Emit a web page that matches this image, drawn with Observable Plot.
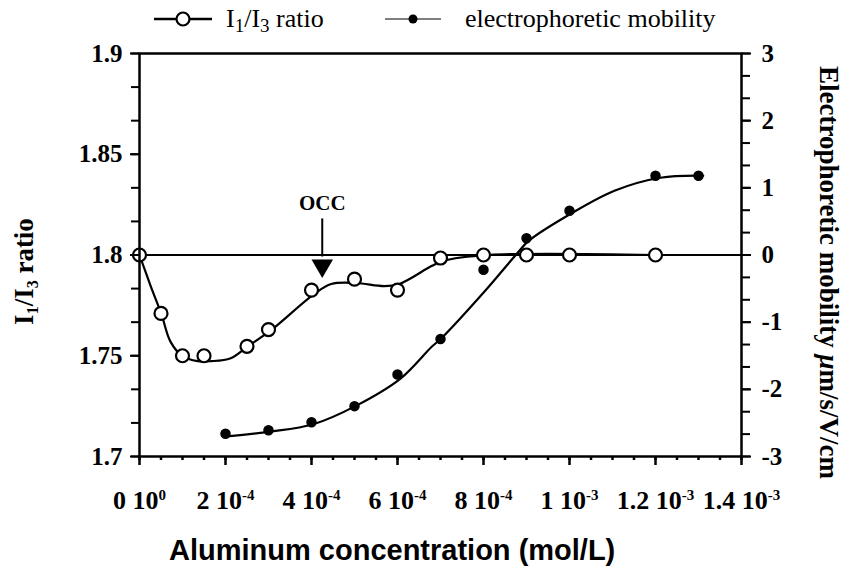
<!DOCTYPE html>
<html><head><meta charset="utf-8">
<script src="https://cdn.jsdelivr.net/npm/d3@7"></script>
<script src="https://cdn.jsdelivr.net/npm/@observablehq/plot@0.6"></script>
<style>
body{margin:0;background:#fff;}
#wrap{position:relative;width:848px;height:574px;overflow:hidden;font-family:"Liberation Serif","Times New Roman",serif;color:#000;}
#wrap svg.plot{position:absolute;left:0;top:0;}
.legend{position:absolute;top:4px;left:0;font-size:26px;white-space:nowrap;}
.legend .item{position:absolute;top:0;display:flex;align-items:center;}
.legend sub{font-size:19px;vertical-align:-5px;line-height:0;}
.ylab{position:absolute;font-weight:bold;white-space:nowrap;}
.ylab sub{font-size:16px;vertical-align:-5px;line-height:0;}
.xlab{position:absolute;font-family:"Liberation Sans Narrow","Liberation Sans",Arial,sans-serif;font-weight:bold;font-size:29px;white-space:nowrap;}
</style></head><body><div id="wrap"></div>
<script>
// I1/I3 ratio (open circles)
const ratioX = [0, 0.5e-4, 1e-4, 1.5e-4, 2.5e-4, 3e-4, 4e-4, 5e-4, 6e-4, 7e-4, 8e-4, 9e-4, 1e-3, 1.2e-3];
const ratioY = [1.8, 1.771, 1.75, 1.75, 1.7547, 1.763, 1.7826, 1.788, 1.7826, 1.7985, 1.8, 1.8, 1.8, 1.8];
// electrophoretic mobility (filled dots), right axis units
const mobX = [2e-4, 3e-4, 4e-4, 5e-4, 6e-4, 7e-4, 8e-4, 9e-4, 1e-3, 1.2e-3, 1.3e-3];
const mobY = [-2.66, -2.61, -2.49, -2.25, -1.78, -1.25, -0.22, 0.25, 0.66, 1.18, 1.18];
// fitted curves
const ratioFitX = [0, 0.26e-4, 0.51e-4, 0.72e-4, 1.0e-4, 1.35e-4, 1.66e-4, 2.12e-4, 2.52e-4, 3.06e-4, 4.06e-4, 4.46e-4, 5.04e-4, 5.69e-4, 6.04e-4, 6.79e-4, 7.05e-4, 8.12e-4, 1.2e-3];
const ratioFitY = [1.8, 1.7846, 1.7706, 1.757, 1.7498, 1.7473, 1.7473, 1.7488, 1.7547, 1.7627, 1.7806, 1.7856, 1.7861, 1.7846, 1.7856, 1.7945, 1.797, 1.8, 1.8];
const mobFitX = [2.03e-4, 3.03e-4, 4.04e-4, 5.02e-4, 6.07e-4, 6.79e-4, 7.02e-4, 8.07e-4, 8.77e-4, 9.05e-4, 1.01e-3, 1.106e-3, 1.211e-3, 1.311e-3];
const mobFitY = [-2.70, -2.63, -2.52, -2.25, -1.84, -1.37, -1.24, -0.51, 0.015, 0.21, 0.64, 0.96, 1.15, 1.18];
// ticks
const xMajor = [0, 2e-4, 4e-4, 6e-4, 8e-4, 1e-3, 1.2e-3, 1.4e-3];
const xTickMantissa = ["0", "2", "4", "6", "8", "1", "1.2", "1.4"];
const xTickExponent = ["0", "-4", "-4", "-4", "-4", "-3", "-3", "-3"];
const leftTicks = [1.7, 1.75, 1.8, 1.85, 1.9];
const leftTickLabels = ["1.7", "1.75", "1.8", "1.85", "1.9"];
const rightTicks = [-3, -2, -1, 0, 1, 2, 3];
const rightTickLabels = ["-3", "-2", "-1", "0", "1", "2", "3"];
// annotation
const occX = 4.25e-4, occTextY = 1.8259, occArrowTop = 1.8179, occArrowEnd = 1.799, occHeadY = 1.7947;

const SERIF = "Liberation Serif";
const toL = m => 1.8 + m / 30; // right axis (-3..3) onto left scale (1.7..1.9)
const xMinor = d3.range(0, 28.5).map(i => i * 0.5e-4);
const leftMinor = d3.range(0, 12.5).map(i => 1.7 + i * 0.2 / 12);
const rightMinor = d3.range(0, 18.5).map(i => toL(-3 + i / 3));

const ratioPts = ratioX.map((x, i) => ({x, y: ratioY[i]}));
const mobPts = mobX.map((x, i) => ({x, y: toL(mobY[i])}));
const ratioFit = ratioFitX.map((x, i) => ({x, y: ratioFitY[i]}));
const mobFit = mobFitX.map((x, i) => ({x, y: toL(mobFitY[i])}));

const plot = Plot.plot({
  width: 848, height: 574,
  marginLeft: 139, marginRight: 107, marginTop: 53, marginBottom: 118,
  x: {domain: [0, 1.4e-3]},
  y: {domain: [1.7, 1.9]},
  style: {fontFamily: SERIF, fontSize: "22px", background: "white", color: "black", overflow: "visible"},
  marks: [
    Plot.ruleY([1.8], {strokeWidth: 2}),
    Plot.line(ratioFit, {x: "x", y: "y", curve: "catmull-rom", strokeWidth: 2.2}),
    Plot.line(mobFit, {x: "x", y: "y", curve: "catmull-rom", strokeWidth: 2.2}),
    Plot.dot(ratioPts, {x: "x", y: "y", r: 6.5, fill: "white", stroke: "black", strokeWidth: 2.2}),
    Plot.dot(mobPts, {x: "x", y: "y", r: 4.5, fill: "black", stroke: "black"}),
    Plot.ruleX([occX], {y1: occArrowTop, y2: occArrowEnd, strokeWidth: 2}),
    Plot.dot([occX], {x: d => d, y: occHeadY, symbol: "triangle", rotate: 180, r: 8, fill: "black"}),
    Plot.text([occX], {x: d => d, y: occTextY, text: () => "OCC", fontSize: 21, fontWeight: "bold", fontFamily: SERIF}),
    Plot.frame({strokeWidth: 2.5}),
    Plot.axisY(leftMinor, {anchor: "left", tickSize: 8, strokeWidth: 2, tickFormat: () => "", label: null}),
    Plot.axisY(leftTicks, {anchor: "left", tickSize: 9, strokeWidth: 2, tickPadding: 8, fontSize: 25, fontWeight: "bold", fontFamily: SERIF, tickFormat: d => leftTickLabels[leftTicks.indexOf(d)], label: null}),
    Plot.axisY(rightMinor, {anchor: "right", tickSize: 8, strokeWidth: 2, tickFormat: () => "", label: null}),
    Plot.axisY(rightTicks.map(toL), {anchor: "right", tickSize: 9, strokeWidth: 2, tickPadding: 11, fontSize: 25, fontWeight: "bold", fontFamily: SERIF, tickFormat: d => rightTickLabels[Math.round((d - 1.8) * 30) + 3], label: null}),
    Plot.axisX(xMinor, {anchor: "bottom", tickSize: 4, strokeWidth: 2.5, tickFormat: () => "", label: null}),
    Plot.axisX(xMajor, {anchor: "bottom", tickSize: 9, strokeWidth: 2.5, tickPadding: 25, fontSize: 26, fontWeight: "bold", fontFamily: SERIF, tickFormat: d => xTickMantissa[xMajor.indexOf(d)] + " 10^" + xTickExponent[xMajor.indexOf(d)], label: null})
  ]
});
plot.classList.add("plot");
const wrap = document.getElementById("wrap");
wrap.appendChild(plot);

// superscripts for the power-of-ten tick labels
d3.select(plot).selectAll("text").each(function () {
  const t = d3.select(this);
  const s = this.textContent;
  if (s.includes("^")) {
    const [base, exp] = s.split("^");
    t.text(null);
    t.append("tspan").text(base);
    t.append("tspan").attr("dy", "-0.62em").attr("font-size", "15px").text(exp);
  }
});

// legend
const legend = document.createElement("div");
legend.className = "legend";
legend.innerHTML =
  `<div class="item" style="left:152px"><svg width="62" height="30"><line x1="2" y1="15" x2="60" y2="15" stroke="black" stroke-width="2.5"/><circle cx="31" cy="15" r="6.5" fill="white" stroke="black" stroke-width="2.2"/></svg><span style="margin-left:12px">I<sub>1</sub>/I<sub>3</sub> ratio</span></div>` +
  `<div class="item" style="left:383px"><svg width="60" height="30"><line x1="2" y1="15" x2="58" y2="15" stroke="black" stroke-width="1.2"/><circle cx="30" cy="15" r="4.5" fill="black"/></svg><span style="margin-left:22px">electrophoretic mobility</span></div>`;
wrap.appendChild(legend);

// left axis title
const yl = document.createElement("div");
yl.className = "ylab";
yl.style.fontSize = "27px";
yl.innerHTML = "I<sub>1</sub>/I<sub>3</sub> ratio";
wrap.appendChild(yl);
const ylw = yl.offsetWidth, ylh = yl.offsetHeight;
yl.style.left = (24 - ylw / 2) + "px";
yl.style.top = (271 - ylh / 2) + "px";
yl.style.transform = "rotate(-90deg)";

// right axis title
const yr = document.createElement("div");
yr.className = "ylab";
yr.style.fontSize = "27px";
yr.innerHTML = "Electrophoretic mobility <span style=\"font-style:italic\">\u03BC</span>m/s/V/cm";
wrap.appendChild(yr);
const yrw = yr.offsetWidth, yrh = yr.offsetHeight;
yr.style.left = (828 - yrw / 2) + "px";
yr.style.top = (272 - yrh / 2) + "px";
yr.style.transform = "rotate(90deg)";

// x axis title
const xl = document.createElement("div");
xl.className = "xlab";
xl.textContent = "Aluminum concentration (mol/L)";
wrap.appendChild(xl);
xl.style.left = (392 - xl.offsetWidth / 2) + "px";
xl.style.top = (550 - xl.offsetHeight / 2) + "px";
</script>
</body></html>
